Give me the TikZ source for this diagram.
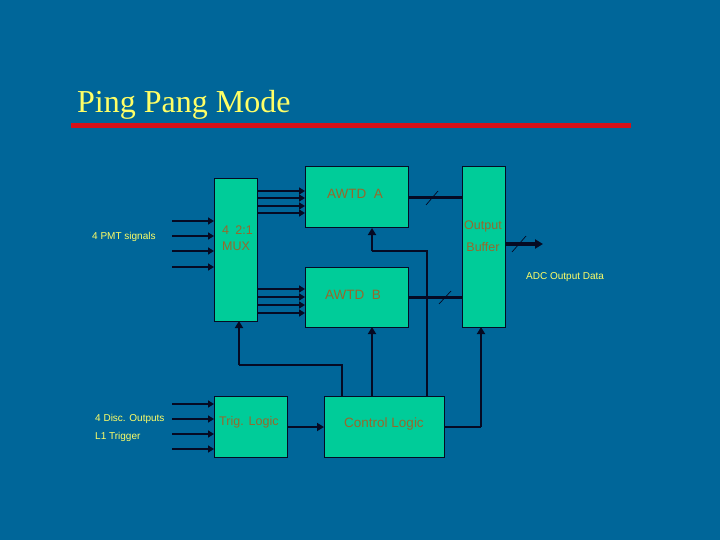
\documentclass[tikz,border=0pt]{standalone}
\usepackage{fontspec}
\setmainfont{Liberation Sans}
\newfontfamily\titlefont{Liberation Serif}
\usetikzlibrary{arrows.meta}
\definecolor{bg}{RGB}{0,102,153}
\definecolor{boxgreen}{RGB}{0,204,153}
\definecolor{boxtext}{RGB}{150,104,44}
\definecolor{ylw}{RGB}{255,255,102}
\definecolor{redline}{RGB}{214,16,24}
\definecolor{ink}{RGB}{5,10,35}
\begin{document}
\begin{tikzpicture}[x=1pt,y=-1pt,
  box/.style={draw=ink, fill=boxgreen, line width=1pt, inner sep=0pt, outer sep=0pt, anchor=north west},
  btext/.style={text=boxtext, font=\fontsize{12.5}{14}\selectfont, inner sep=0pt},
  lbl/.style={text=ylw, font=\fontsize{10}{12}\selectfont, inner sep=0pt, anchor=west},
  inarrow/.style={draw=ink, line width=2pt, -{Triangle[length=6pt,width=7pt]}},
  bus/.style={draw=ink, line width=3pt},
  bigarrow/.style={draw=ink, line width=4pt, -{Triangle[length=8pt,width=9pt]}},
  thinline/.style={draw=ink, line width=1.3pt},
  thickarrow/.style={draw=ink, line width=2.8pt, -{Triangle[length=7pt,width=8pt]}},
  slash/.style={draw=ink, line width=0.7pt}
]
\fill[bg] (0,0) rectangle (720,540);
\useasboundingbox (0,0) rectangle (720,540);

% title
\node[text=ylw, font=\titlefont\fontsize{32}{35}\selectfont, anchor=base west, inner sep=0pt] (title) at (77,113) {Ping Pang Mode};
\draw[redline, line width=5pt] (71,126) -- (631,126);

% boxes
\node[box, minimum width=43, minimum height=142] (mux) at (214,179) {};
\node[box, minimum width=103, minimum height=61] (awtdA) at (305,167) {};
\node[box, minimum width=103, minimum height=60] (awtdB) at (305,267) {};
\node[box, minimum width=43, minimum height=160] (out) at (462,167) {};
\node[box, minimum width=73, minimum height=61] (trig) at (214,396) {};
\node[box, minimum width=120, minimum height=61] (ctrl) at (324,396) {};

% box texts
\node[btext, font=\fontsize{13.5}{15}\selectfont] (tA) at (355,194) {AWTD\hspace{0.55em}A};
\node[btext, font=\fontsize{13.5}{15}\selectfont] (tB) at (353,295) {AWTD\hspace{0.55em}B};
\node[btext, anchor=west] (tmux1) at (222,230) {4\hspace{0.5em}2:1};
\node[btext, anchor=west] (tmux2) at (222,246) {MUX};
\node[btext] (tout1) at (483,226) {Output};
\node[btext] (tout2) at (483,247) {Buffer};
\node[btext, anchor=west] (ttrig) at (219,422) {Trig.\hspace{0.4em}Logic};
\node[btext, font=\fontsize{13.5}{15}\selectfont] (tctrl) at (384,424) {Control Logic};

% labels
\node[lbl] (lpmt) at (92,237) {4 PMT signals};
\node[lbl] (ldisc) at (95,419) {4 Disc. Outputs};
\node[lbl] (ll1) at (95,437) {L1 Trigger};
\node[lbl] (ladc) at (526,277) {ADC Output Data};

% inputs to MUX
\foreach \yy [count=\i] in {221,236,251,267} {
  \coordinate (pmt\i) at (172,\yy);
  \draw[inarrow] (pmt\i) -- (mux.west |- pmt\i);
}
% inputs to Trig
\foreach \yy [count=\i] in {404,419,434,449} {
  \coordinate (disc\i) at (172,\yy);
  \draw[inarrow] (disc\i) -- (trig.west |- disc\i);
}
% MUX to AWTD A / B
\foreach \yy in {191,198,206,213} {
  \draw[inarrow] (mux.east |- 0,\yy) -- (awtdA.west |- 0,\yy);
}
\foreach \yy in {289,297,305,313} {
  \draw[inarrow] (mux.east |- 0,\yy) -- (awtdB.west |- 0,\yy);
}
% buses to output buffer
\draw[bus] (awtdA.east |- 0,198) -- (out.west |- 0,198);
\draw[slash] (426,205) -- (438,191);
\draw[bus] (awtdB.east |- 0,297) -- (out.west |- 0,297);
\draw[slash] (439,304) -- (451,291);
% output
\coordinate (adc) at (543,244);
\draw[bigarrow] (out.east |- adc) -- (adc);
\draw[slash] (512,252) -- (526,236);

% trig to control
\draw[thickarrow] (trig.east |- 0,427) -- (ctrl.west |- 0,427);

% control to MUX
\coordinate (cm) at (239,365);
\draw[thinline] (ctrl.north -| 342,0) |- (cm);
\draw[thickarrow] (cm) -- (mux.south -| cm);
% control to AWTD B
\draw[thickarrow] (ctrl.north -| 372,0) -- (awtdB.south -| 372,0);
% control to AWTD A
\coordinate (ca) at (372,251);
\draw[thinline] (ctrl.north -| 427,0) |- (ca);
\draw[thickarrow] (ca) -- (awtdA.south -| ca);
% control to Output buffer
\coordinate (co) at (481,427);
\draw[thinline] (ctrl.east |- co) -- (co);
\draw[thickarrow] (co) -- (out.south -| co);
\end{tikzpicture}
\end{document}
